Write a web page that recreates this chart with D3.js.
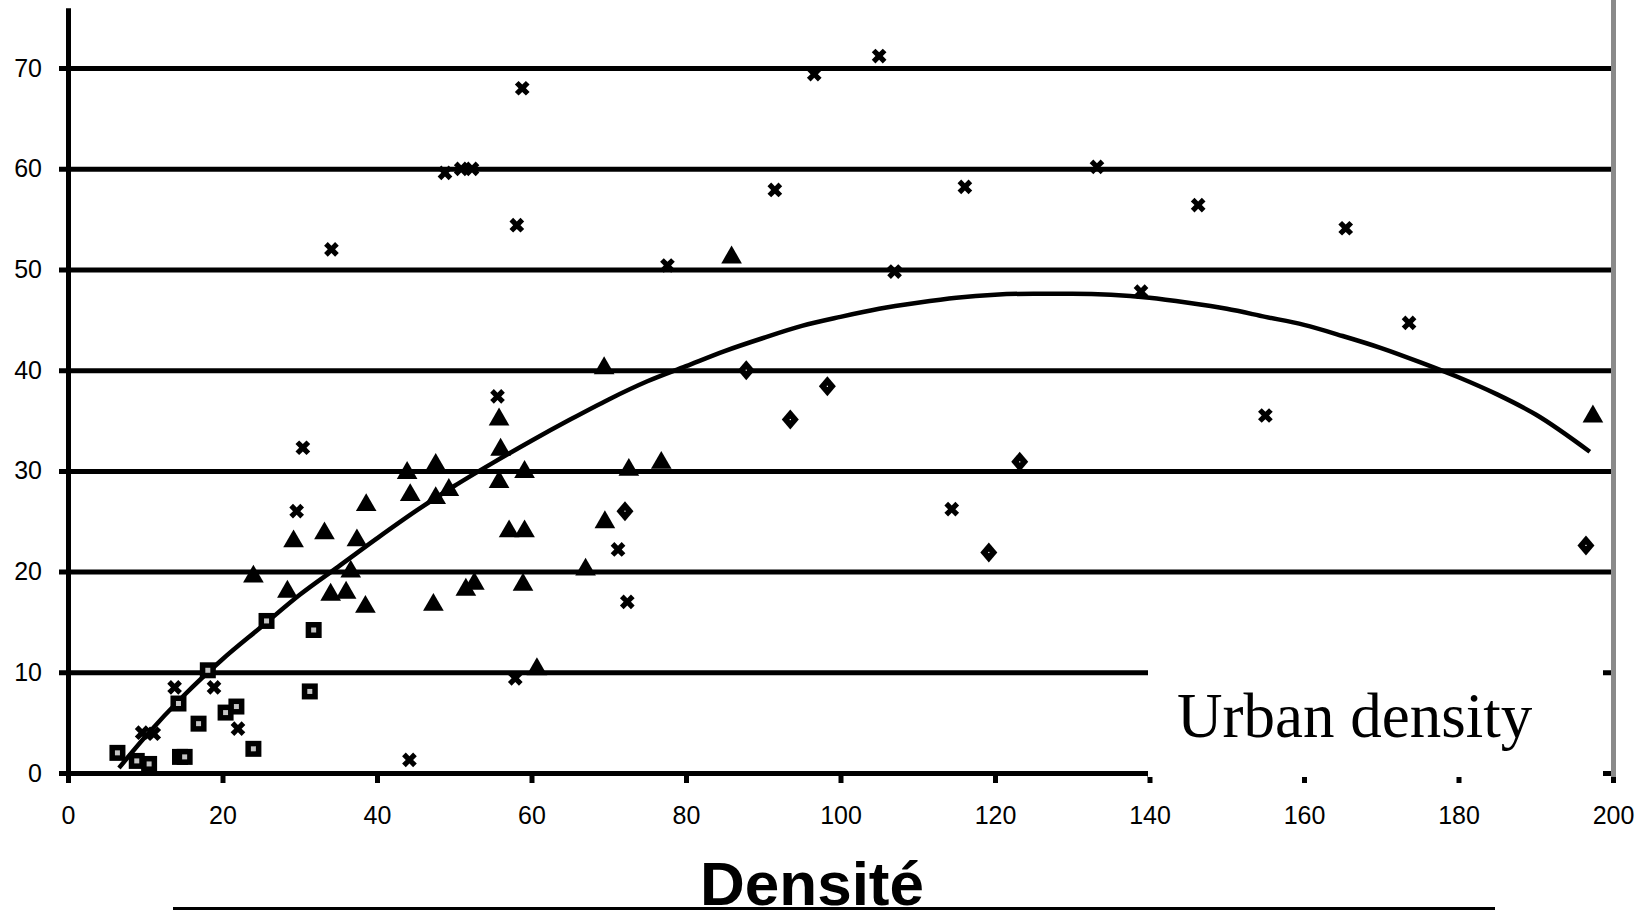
<!DOCTYPE html>
<html>
<head>
<meta charset="utf-8">
<script src="https://cdn.jsdelivr.net/npm/d3@7"></script>
<style>
    body { margin: 0; background: #fff; }
    .tick text { font-family: "Liberation Sans", Arial, sans-serif; fill: #000; }
</style>
</head>
<body>
<div class="canvas"></div>
<script>
//Data
const squareX = [6.4, 8.9, 10.5, 14.3, 14.5, 15.1, 16.9, 18.1, 20.4, 21.8, 24.0, 25.7, 31.3, 31.8];
const squareY = [2.0, 1.2, 0.9, 6.9, 1.6, 1.6, 4.9, 10.2, 6.0, 6.6, 2.4, 15.1, 8.1, 14.2];

const triX = [24.0, 28.4, 29.2, 33.2, 34.0, 36.0, 36.6, 37.4, 38.5, 38.6, 43.9, 44.3, 47.3, 47.6, 47.6, 49.3, 51.5,
    52.6, 55.8, 56.0, 55.8, 57.1, 59.1, 59.1, 58.9, 60.7, 67.0, 69.4, 69.5, 72.6, 76.8, 85.9, 197.4];
const triY = [19.5, 18.0, 23.0, 23.8, 17.7, 17.9, 20.0, 23.1, 16.5, 26.6, 29.8, 27.6, 16.7, 30.6, 27.3, 28.1, 18.2,
    18.8, 35.1, 32.1, 28.9, 24.0, 24.0, 29.9, 18.7, 10.3, 20.2, 40.2, 24.9, 30.1, 30.8, 51.2, 35.4];

const crossX = [9.6, 11.1, 13.8, 18.9, 22.0, 29.6, 30.4, 34.1, 44.2, 48.8, 50.9, 52.3, 55.6, 57.9, 58.1, 58.8, 71.2,
    72.4, 77.6, 91.5, 96.6, 105.0, 107.0, 114.4, 116.1, 133.2, 138.9, 146.3, 155.0, 165.4, 173.6];
const crossY = [4.0, 3.9, 8.5, 8.5, 4.4, 26.0, 32.3, 52.0, 1.3, 59.6, 60.0, 60.0, 37.4, 9.4, 54.4, 68.0, 22.2,
    17.0, 50.4, 57.9, 69.4, 71.2, 49.8, 26.2, 58.2, 60.2, 47.8, 56.4, 35.5, 54.1, 44.7];

const diamondX = [72.1, 87.8, 93.5, 98.3, 119.2, 123.2, 196.5];
const diamondY = [26.0, 40.0, 35.1, 38.4, 21.9, 30.9, 22.6];

//trend curve, read at points along the line
const trendX = [6.6, 10, 15, 20, 25, 30, 35, 40, 45, 50, 55, 60, 65, 70, 75, 80, 85, 90, 95, 100, 105, 110, 115, 120,
    125, 130, 135, 140, 145, 150, 155, 160, 165, 170, 175, 180, 185, 190, 197];
const trendY = [0.5, 3.6, 7.7, 11.3, 14.5, 17.7, 20.5, 23.3, 26.0, 28.5, 30.8, 33.0, 35.1, 37.1, 38.9, 40.4, 41.9,
    43.2, 44.4, 45.3, 46.1, 46.7, 47.2, 47.5, 47.6, 47.6, 47.5, 47.2, 46.7, 46.1, 45.3, 44.5, 43.4, 42.2, 40.8, 39.3,
    37.6, 35.6, 31.9];

const xTicks = [0, 20, 40, 60, 80, 100, 120, 140, 160, 180, 200];
const yTicks = [0, 10, 20, 30, 40, 50, 60, 70];

const zip = (xs, ys) => xs.map((x, i) => [x, ys[i]]);

//SVG parameters
const
    width = 1641,
    height = 910,
    plotLeft = 68,
    plotRight = 1613,
    plotBottom = 773,
    plotTop = 7.7;

const svg = d3.select('.canvas')
    .append('svg')
    .attr('width', width)
    .attr('height', height)
    .style('display', 'block');

svg.append('rect').attr('width', width).attr('height', height).attr('fill', '#fff');

const xScale = d3.scaleLinear().domain([0, 200]).range([plotLeft, plotRight]);
const yScale = d3.scaleLinear().domain([0, 76]).range([plotBottom, plotTop]);

//Gridlines (0 line doubles as x axis)
svg.append('g')
    .attr('transform', `translate(${plotLeft - 9}, 0)`)
    .call(d3.axisLeft(yScale).tickValues(yTicks).tickSize(-(plotRight - plotLeft + 9)).tickFormat(''))
    .call(g => g.select('.domain').remove())
    .call(g => g.selectAll('line').attr('stroke', '#000').attr('stroke-width', 5));

//Y-Axis
svg.append('g')
    .attr('transform', `translate(${plotLeft}, 0)`)
    .call(d3.axisLeft(yScale).tickValues(yTicks).tickSize(0).tickPadding(26).tickSizeOuter(0))
    .call(g => g.select('.domain').attr('stroke', '#000').attr('stroke-width', 5))
    .call(g => g.selectAll('text').attr('font-size', 25));

//X-Axis
svg.append('g')
    .attr('transform', `translate(0, ${plotBottom})`)
    .call(d3.axisBottom(xScale).tickValues(xTicks).tickSize(10))
    .call(g => g.select('.domain').remove())
    .call(g => g.selectAll('line').attr('stroke', '#000').attr('stroke-width', 5))
    .call(g => g.selectAll('text').attr('font-size', 25).attr('y', 51).attr('dy', 0));

//Trend curve
const line = d3.line()
    .x(d => xScale(d[0]))
    .y(d => yScale(d[1]))
    .curve(d3.curveMonotoneX);
svg.append('path')
    .datum(zip(trendX, trendY))
    .attr('d', line)
    .attr('fill', 'none')
    .attr('stroke', '#000')
    .attr('stroke-width', 4.5);

//Label box covering the lower right corner
svg.append('rect')
    .attr('x', xScale(140) - 1.5)
    .attr('y', 650)
    .attr('width', plotRight - 10 - (xScale(140) - 1.5))
    .attr('height', 777 - 650)
    .attr('fill', '#fff');

svg.append('text')
    .attr('x', 1177)
    .attr('y', 737)
    .attr('font-family', '"Liberation Serif", "Times New Roman", serif')
    .attr('font-size', 63)
    .text('Urban density');

//Right border
svg.append('line')
    .attr('x1', plotRight + 0.5).attr('x2', plotRight + 0.5)
    .attr('y1', 0).attr('y2', 777)
    .attr('stroke', '#8a8a8a')
    .attr('stroke-width', 5);

//Markers
const pos = d => `translate(${xScale(d[0])}, ${yScale(d[1])})`;

const sq = svg.append('g').selectAll('g')
    .data(zip(squareX, squareY))
    .enter().append('g')
    .attr('transform', pos);
sq.append('path').attr('d', d3.symbol(d3.symbolSquare, 256)).attr('fill', '#000');
sq.append('path').attr('d', d3.symbol(d3.symbolSquare, 25)).attr('fill', '#c4c4c4');

svg.append('g').selectAll('path')
    .data(zip(triX, triY))
    .enter().append('path')
    .attr('transform', pos)
    .attr('d', d3.symbol(d3.symbolTriangle, 185))
    .attr('fill', '#000');

svg.append('g').selectAll('path')
    .data(zip(crossX, crossY))
    .enter().append('path')
    .attr('transform', d => pos(d) + ' rotate(45)')
    .attr('d', d3.symbol(d3.symbolCross, 135))
    .attr('fill', '#000');

const dm = svg.append('g').selectAll('g')
    .data(zip(diamondX, diamondY))
    .enter().append('g')
    .attr('transform', pos);
dm.append('path').attr('d', 'M0,-10L8.5,0L0,10L-8.5,0Z').attr('fill', '#000');
dm.append('rect').attr('x', -0.6).attr('y', -0.6).attr('width', 1.2).attr('height', 1.2).attr('fill', '#fff');

//Title
svg.append('text')
    .attr('x', 812)
    .attr('y', 905)
    .attr('text-anchor', 'middle')
    .attr('font-family', '"Liberation Sans", Arial, sans-serif')
    .attr('font-weight', 'bold')
    .attr('font-size', 62)
    .text('Densité');

svg.append('line')
    .attr('x1', 173).attr('x2', 1495)
    .attr('y1', 908.5).attr('y2', 908.5)
    .attr('stroke', '#000')
    .attr('stroke-width', 3);
</script>
</body>
</html>
